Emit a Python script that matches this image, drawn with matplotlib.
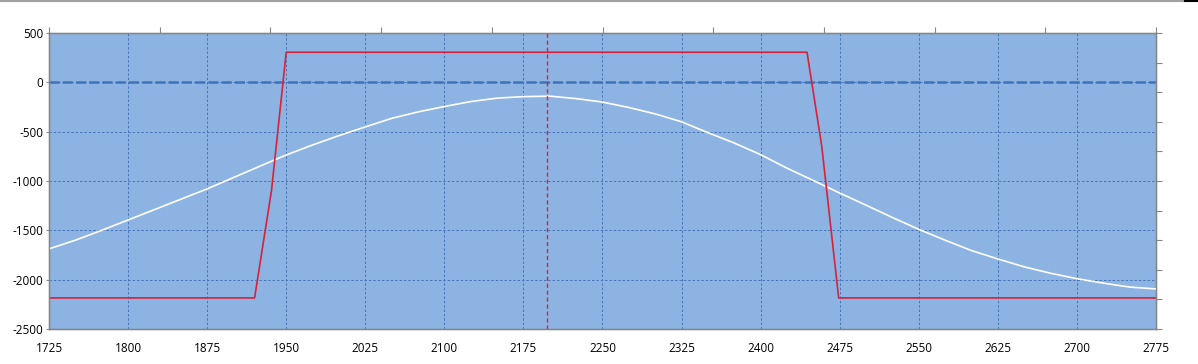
import matplotlib
matplotlib.use("Agg")
import matplotlib.pyplot as plt
from matplotlib.lines import Line2D
import numpy as np

# Data
x_white = [1725, 1750, 1775, 1800, 1825, 1850, 1875, 1900, 1925, 1950, 1975, 2000,
           2025, 2050, 2075, 2100, 2125, 2150, 2175, 2200, 2225, 2250, 2275, 2300,
           2325, 2350, 2375, 2400, 2425, 2450, 2475, 2500, 2525, 2550, 2575, 2600,
           2625, 2650, 2675, 2700, 2725, 2750, 2775]
y_white = [-1688, -1600, -1500, -1395, -1290, -1185, -1080, -965, -850, -736, -635, -540,
           -452, -365, -300, -245, -195, -160, -145, -140, -165, -200, -255, -320,
           -400, -510, -615, -733, -870, -995, -1122, -1245, -1370, -1490, -1600, -1705,
           -1790, -1870, -1935, -1990, -2035, -2075, -2094]

x_red = [1725, 1920, 1936, 1950, 2444, 2458, 2474, 2775]
y_red = [-2185, -2185, -1100, 305, 305, -650, -2185, -2185]

x_marker = 2197
y_zero = 0

x_ticks = [1725, 1800, 1875, 1950, 2025, 2100, 2175, 2250, 2325, 2400, 2475,
           2550, 2625, 2700, 2775]
y_ticks = [500, 0, -500, -1000, -1500, -2000, -2500]

plt.rcParams['font.family'] = ['Open Sans', 'DejaVu Sans']

fig = plt.figure(figsize=(11.98, 3.64), dpi=100)
ax = fig.add_axes([49/1198, 1 - 329/364, (1156 - 49)/1198, (329 - 33)/364])
ax.set_facecolor('#8DB3E2')

ax.set_xlim(1725, 2775)
ax.set_ylim(-2500, 500)
ax.set_xticks(x_ticks)
ax.set_yticks(y_ticks)
ax.set_xticklabels([str(v) for v in x_ticks], fontsize=8.5)
ax.set_yticklabels([str(v) for v in y_ticks], fontsize=8.5)
ax.tick_params(axis='x', length=0, pad=9)
ax.tick_params(axis='y', length=2, color='#868686', pad=2)

ax.grid(True, color='#4676B8', linestyle=(0, (2.5, 2)), linewidth=0.7)
ax.set_axisbelow(True)

for s in ax.spines.values():
    s.set_color('#868686')
    s.set_linewidth(1.0)

ax.axhline(y_zero, color='#3F72B8', linestyle=(0, (4, 1.3)), linewidth=1.8, zorder=2)
ax.plot(x_white, y_white, color='white', linewidth=1.2, zorder=3)
ax.plot(x_red, y_red, color='#D9213A', linewidth=1.2, zorder=4)
ax.axvline(x_marker, color='#D9213A', linestyle=(0, (3, 2)), linewidth=1.0, zorder=4)

# secondary axes ticks (no labels)
axt = ax.twiny()
axt.set_xlim(0, 10)
axt.set_xticks(np.arange(0, 11))
axt.set_xticklabels([])
axt.tick_params(axis='x', length=4, color='#868686', direction='out')
axr = ax.twinx()
axr.set_ylim(0, 10)
axr.set_yticks(np.arange(0, 11))
axr.set_yticklabels([])
axr.tick_params(axis='y', length=4, color='#868686', direction='out')
for a in (axt, axr):
    for s in a.spines.values():
        s.set_color('#868686')

# frame line at top of figure
fig.add_artist(Line2D([0, 1185/1198], [1 - 1/364, 1 - 1/364], color='#A0A0A0', linewidth=1.5))
fig.add_artist(Line2D([1185/1198, 1], [1 - 1/364, 1 - 1/364], color='black', linewidth=1.5))

fig.savefig('out.png', dpi=100)
